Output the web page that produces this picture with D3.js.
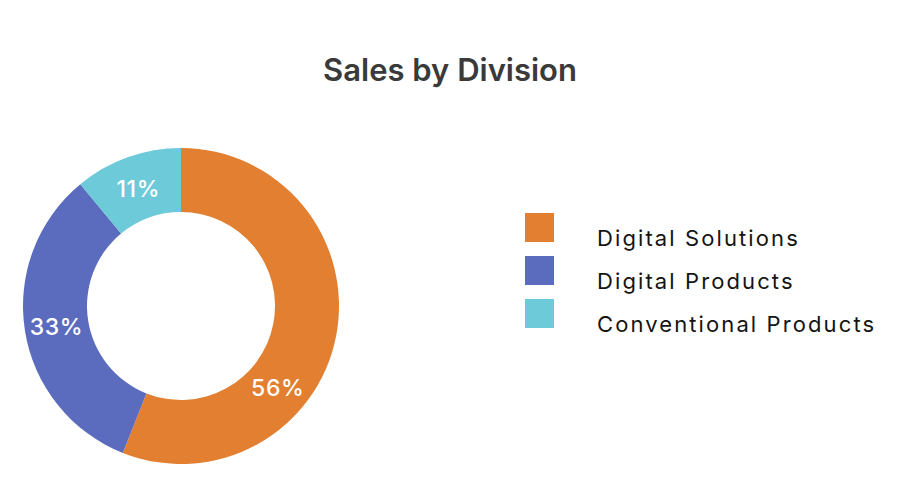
<!DOCTYPE html>
<html>
<head>
<meta charset="utf-8">
<script src="https://cdn.jsdelivr.net/npm/d3@7"></script>
<style>
  body { margin: 0; background: #fff; }
  svg { display: block; }
</style>
</head>
<body>
<div id="chart"></div>
<script>
  var divisions = ["Digital Solutions", "Digital Products", "Conventional Products"];
  var shares = [56, 33, 11];
  var colors = ["#E27F30", "#5B6BBE", "#6DCAD9"];

  var w = 900,
      h = 499,
      cx = 181,
      cy = 306,
      outer = 158,
      inner = 94;

  var svg = d3.select("#chart").append("svg")
      .attr("width", w)
      .attr("height", h);

  // title
  svg.append("text")
      .attr("x", 450)
      .attr("y", 81)
      .attr("text-anchor", "middle")
      .attr("font-family", "Inter, 'Noto Sans', sans-serif")
      .attr("font-weight", 600)
      .attr("font-size", 31)
      .attr("fill", "#3a3a3a")
      .text("Sales by Division");

  var color = d3.scaleOrdinal().domain(divisions).range(colors);

  var pie = d3.pie().sort(null).value(function(d){ return d; });
  var arcs = pie(shares);

  var arc = d3.arc().innerRadius(inner).outerRadius(outer);

  var g = svg.append("g").attr("transform", "translate(" + cx + "," + cy + ")");

  g.selectAll("path").data(arcs)
    .enter().append("path")
    .attr("d", arc)
    .attr("fill", function(d, i){ return color(divisions[i]); });

  // label sits a bit past the middle on the big slice
  var labelR = (inner + outer) / 2;
  function labelPos(d, i) {
    var t = i === 0 ? 0.644 : 0.5;
    var a = d.startAngle + (d.endAngle - d.startAngle) * t;
    return [Math.sin(a) * labelR, -Math.cos(a) * labelR];
  }

  g.selectAll("text.pct").data(arcs)
    .enter().append("text")
    .attr("class", "pct")
    .attr("x", function(d, i){ return labelPos(d, i)[0]; })
    .attr("y", function(d, i){ return labelPos(d, i)[1]; })
    .attr("dy", "0.42em")
    .attr("text-anchor", "middle")
    .attr("font-family", "Inter, 'Noto Sans', sans-serif")
    .attr("font-weight", 500)
    .attr("font-size", 23)
    .attr("letter-spacing", 0.6)
    .attr("fill", "#fff")
    .text(function(d){ return d.data + "%"; });

  // legend
  var legend = svg.append("g").attr("transform", "translate(525,213)");
  var item = legend.selectAll("g").data(divisions)
    .enter().append("g")
    .attr("transform", function(d, i){ return "translate(0," + i * 43 + ")"; });

  item.append("rect")
    .attr("width", 29)
    .attr("height", 29)
    .attr("fill", function(d){ return color(d); });

  item.append("text")
    .attr("x", 72)
    .attr("y", 33)
    .attr("font-family", "Inter, 'Noto Sans', sans-serif")
    .attr("font-size", 22)
    .attr("letter-spacing", 2.1)
    .attr("fill", "#141414")
    .text(function(d){ return d; });
</script>
</body>
</html>
